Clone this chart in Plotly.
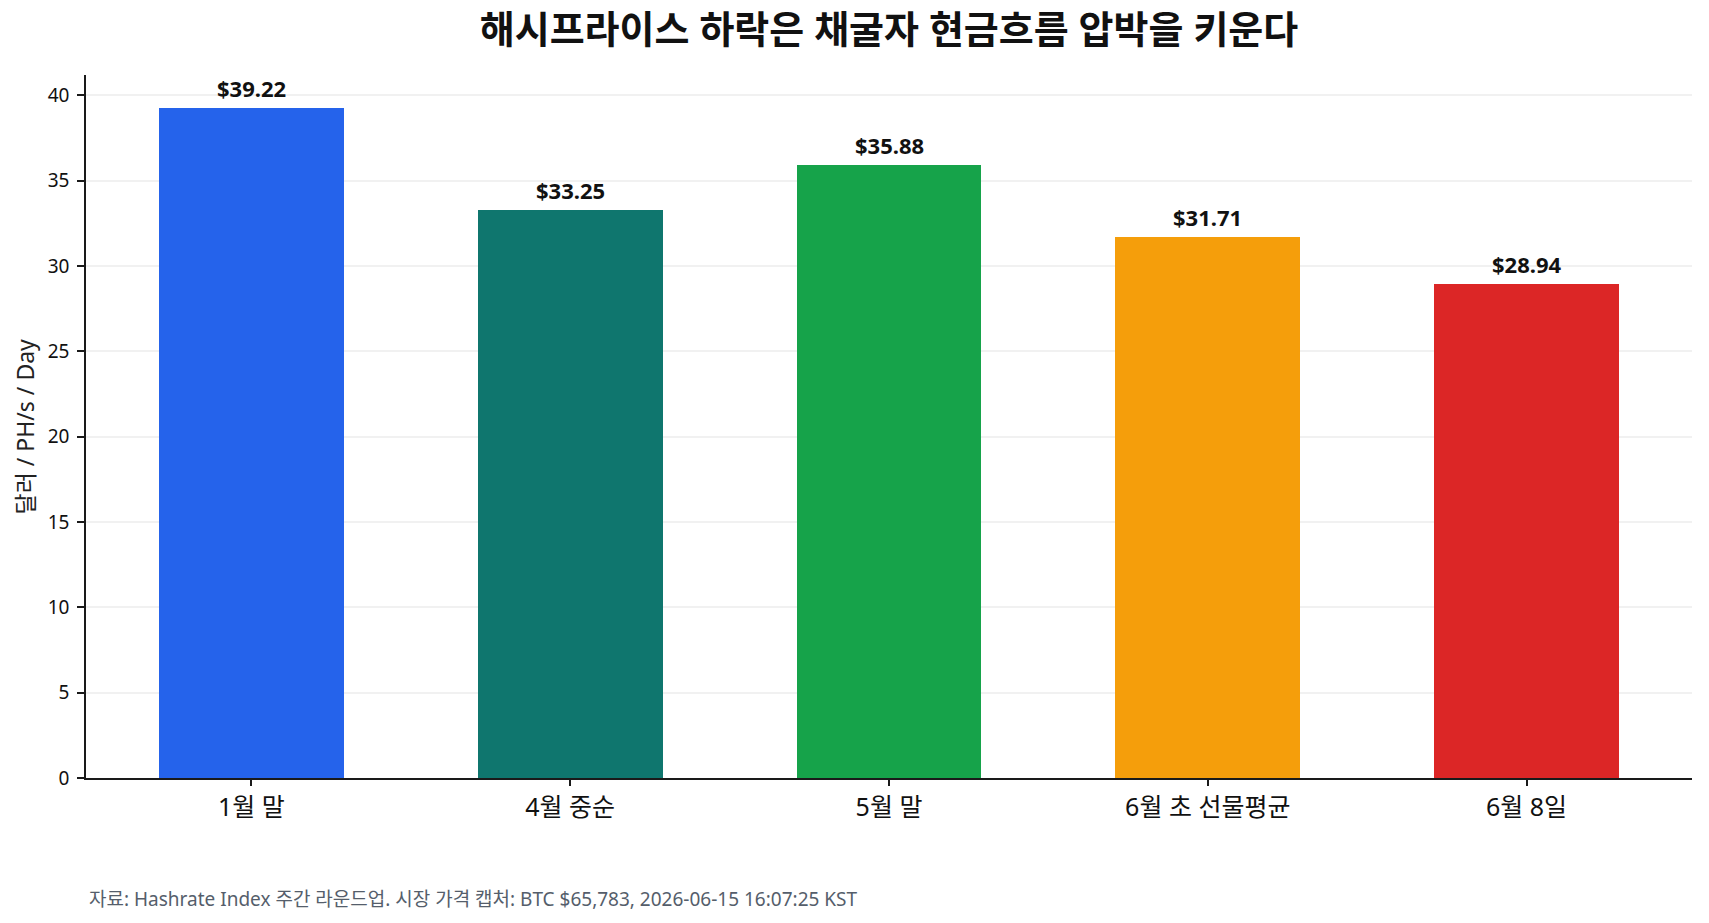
import plotly.graph_objects as go

categories = ["1월 말", "4월 중순", "5월 말", "6월 초 선물평균", "6월 8일"]
values = [39.22, 33.25, 35.88, 31.71, 28.94]
bar_colors = ["#2563eb", "#0f766e", "#16a34a", "#f59e0b", "#dc2626"]
y_ticks = [0, 5, 10, 15, 20, 25, 30, 35, 40]

title_text = "해시프라이스 하락은 채굴자 현금흐름 압박을 키운다"
y_title = "달러 / PH/s / Day"
footer = "자료: Hashrate Index 주간 라운드업. 시장 가격 캡처: BTC $65,783, 2026-06-15 16:07:25 KST"

FONT = "Noto Sans, Noto Sans CJK KR, sans-serif"

W, H = 1709, 923
L, R, T, B = 86, 17, 75, 145
plot_w = W - L - R
plot_h = H - T - B

fig = go.Figure()
fig.add_trace(go.Bar(
    x=list(range(len(categories))),
    y=values,
    width=0.58,
    marker=dict(color=bar_colors, line=dict(width=0)),
    hoverinfo="skip",
))

annotations = []
for i, v in enumerate(values):
    annotations.append(dict(
        x=i, y=v, xref="x", yref="y", text=f"<b>${v:.2f}</b>",
        showarrow=False, yanchor="bottom", yshift=3,
        font=dict(family=FONT, size=22, color="#111111"),
    ))

annotations.append(dict(
    x=(24 - L) / plot_w, y=0.5, xref="paper", yref="paper",
    text=y_title, textangle=-90, showarrow=False,
    xanchor="center", yanchor="middle",
    font=dict(family=FONT, size=23, color="#222222"),
))
annotations.append(dict(
    x=(87 - L) / plot_w, y=-(899 - (T + plot_h)) / plot_h, xref="paper", yref="paper",
    text=footer, showarrow=False, xanchor="left", yanchor="middle",
    font=dict(family=FONT, size=19, color="#555e6b"),
))

ymax = max(values) * 1.05
fig.update_layout(
    width=W, height=H,
    margin=dict(l=L, r=R, t=T, b=B, autoexpand=False),
    paper_bgcolor="white", plot_bgcolor="white",
    showlegend=False,
    title=dict(
        text=f"<b>{title_text}</b>", x=(L + plot_w / 2) / W, xanchor="center",
        y=1 - 30 / H, yanchor="middle", xref="container", yref="container",
        font=dict(family=FONT, size=38, color="#111111"),
    ),
    annotations=annotations,
    bargap=0,
)
fig.update_xaxes(
    range=[-0.519, len(categories) - 1 + 0.519],
    tickmode="array", tickvals=list(range(len(categories))), ticktext=categories,
    showgrid=False, zeroline=False,
    showline=True, linecolor="#1a1a1a", linewidth=1.6,
    ticks="outside", ticklen=6, tickwidth=1.6, tickcolor="#1a1a1a",
    tickfont=dict(family=FONT, size=25, color="#111111"),
    layer="above traces",
)
fig.update_yaxes(
    range=[0, ymax],
    tickmode="array", tickvals=y_ticks,
    showgrid=True, gridcolor="rgba(128,128,128,0.11)", gridwidth=1.5,
    zeroline=False,
    showline=True, linecolor="#1a1a1a", linewidth=1.6,
    ticks="outside", ticklen=7, tickwidth=1.6, tickcolor="#1a1a1a",
    ticklabelstandoff=4,
    tickfont=dict(family=FONT, size=19, color="#111111"),
    layer="above traces",
)

fig.write_html("out.html")
